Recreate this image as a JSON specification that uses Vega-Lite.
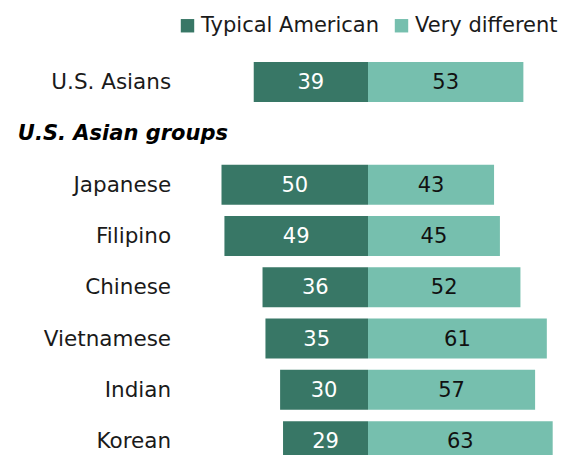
{
  "$schema": "https://vega.github.io/schema/vega-lite/v6.json",
  "width": 565,
  "height": 455,
  "autosize": "none",
  "padding": 0,
  "config": {"view": {"stroke": null}, "font": "DejaVu Sans"},
  "datasets": {
    "survey": [
      {"group": "U.S. Asians", "response": "Typical American", "value": 39},
      {"group": "U.S. Asians", "response": "Very different", "value": 53},
      {"group": "Japanese", "response": "Typical American", "value": 50},
      {"group": "Japanese", "response": "Very different", "value": 43},
      {"group": "Filipino", "response": "Typical American", "value": 49},
      {"group": "Filipino", "response": "Very different", "value": 45},
      {"group": "Chinese", "response": "Typical American", "value": 36},
      {"group": "Chinese", "response": "Very different", "value": 52},
      {"group": "Vietnamese", "response": "Typical American", "value": 35},
      {"group": "Vietnamese", "response": "Very different", "value": 61},
      {"group": "Indian", "response": "Typical American", "value": 30},
      {"group": "Indian", "response": "Very different", "value": 57},
      {"group": "Korean", "response": "Typical American", "value": 29},
      {"group": "Korean", "response": "Very different", "value": 63}
    ],
    "header": [{"group": "U.S. Asian groups"}]
  },
  "data": {"name": "survey"},
  "encoding": {
    "y": {
      "field": "group",
      "type": "nominal",
      "scale": {
        "domain": ["U.S. Asians", "U.S. Asian groups", "Japanese", "Filipino", "Chinese", "Vietnamese", "Indian", "Korean"],
        "range": [56.4, 466.8],
        "paddingInner": 0.22,
        "paddingOuter": 0.11
      },
      "axis": null
    }
  },
  "layer": [
    {
      "transform": [{"filter": "datum.response === 'Typical American'"}],
      "layer": [
        {
          "mark": {"type": "bar"},
          "encoding": {
            "x": {"field": "value", "type": "quantitative", "stack": "zero", "scale": {"domain": [125.6, 0], "range": [0, 368], "nice": false, "zero": false}, "axis": null},
            "color": {
              "field": "response",
              "type": "nominal",
              "scale": {"domain": ["Typical American", "Very different"], "range": ["#387766", "#76bfae"]},
              "legend": {
                "orient": "none",
                "legendX": 177,
                "legendY": 15,
                "direction": "horizontal",
                "title": null,
                "symbolType": "square",
                "symbolSize": 180,
                "symbolStrokeWidth": 0,
                "symbolOpacity": 1,
                "labelFontSize": 21,
                "labelLimit": 0,
                "labelColor": "#1a1a1a",
                "labelOffset": 3,
                "columnPadding": 11
              }
            }
          }
        },
        {
          "mark": {"type": "text", "fontSize": 21, "color": "white", "baseline": "middle", "align": "center", "dy": 1},
          "encoding": {
            "x": {"field": "value", "type": "quantitative", "stack": "zero", "bandPosition": 0.5, "scale": {"domain": [125.6, 0], "range": [0, 368], "nice": false, "zero": false}, "axis": null},
            "text": {"field": "value", "type": "quantitative"}
          }
        },
        {
          "mark": {"type": "text", "fontSize": 21.5, "color": "#1a1a1a", "baseline": "middle", "align": "right", "dy": 1},
          "encoding": {
            "x": {"datum": 67.2, "type": "quantitative"},
            "text": {"field": "group", "type": "nominal"}
          }
        },
        {
          "data": {"name": "header"},
          "mark": {"type": "text", "fontSize": 21, "fontWeight": "bold", "fontStyle": "italic", "color": "#000000", "baseline": "middle", "align": "left", "dy": 1},
          "encoding": {
            "x": {"datum": 119.5, "type": "quantitative"},
            "text": {"field": "group", "type": "nominal"}
          }
        }
      ]
    },
    {
      "transform": [{"filter": "datum.response === 'Very different'"}],
      "layer": [
        {
          "mark": {"type": "bar"},
          "encoding": {
            "x": {"field": "value", "type": "quantitative", "stack": "zero", "scale": {"domain": [0, 67.2], "range": [368, 565], "nice": false, "zero": false}, "axis": null},
            "color": {"field": "response", "type": "nominal"}
          }
        },
        {
          "mark": {"type": "text", "fontSize": 21, "color": "#111111", "baseline": "middle", "align": "center", "dy": 1},
          "encoding": {
            "x": {"field": "value", "type": "quantitative", "stack": "zero", "bandPosition": 0.5, "scale": {"domain": [0, 67.2], "range": [368, 565], "nice": false, "zero": false}, "axis": null},
            "text": {"field": "value", "type": "quantitative"}
          }
        }
      ]
    }
  ],
  "resolve": {"scale": {"x": "independent"}}
}
